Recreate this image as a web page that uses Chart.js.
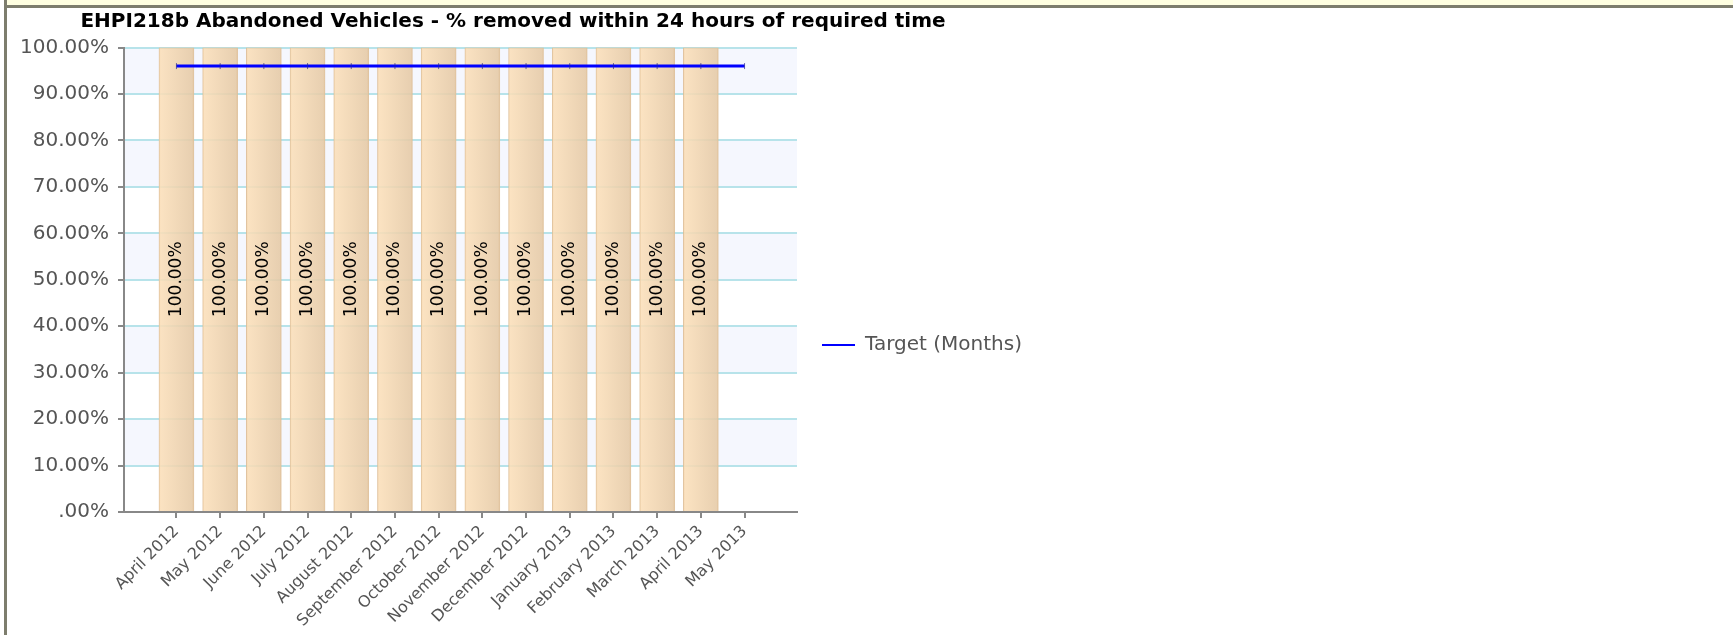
<!DOCTYPE html>
<html>
<head>
  <title>EHPI218b Abandoned Vehicles</title>
  <script src="https://cdn.jsdelivr.net/npm/chart.js@4"></script>
  <style>
    html, body { margin: 0; padding: 0; background: #fff; overflow: hidden; width: 1733px; height: 635px; }
    #topbar { position: absolute; left: 4px; top: 0; width: 1729px; height: 5px; background: #ffffe1; }
    #topline { position: absolute; left: 4px; top: 5px; width: 1729px; height: 3px; background: #7d7d6d; }
    #leftline { position: absolute; left: 4px; top: 0; width: 3px; height: 635px; background: #7d7d6d; }
    #chart { position: absolute; left: 0; top: 0; }
  </style>
</head>
<body>
  <div id="topbar"></div>
  <div id="topline"></div>
  <div id="leftline"></div>
  <canvas id="chart" width="1733" height="690"></canvas>
  <script>
    const months = ['April 2012', 'May 2012', 'June 2012', 'July 2012', 'August 2012', 'September 2012',
      'October 2012', 'November 2012', 'December 2012', 'January 2013', 'February 2013', 'March 2013',
      'April 2013', 'May 2013'];
    const actual = [100, 100, 100, 100, 100, 100, 100, 100, 100, 100, 100, 100, 100, null];
    const target = [96, 96, 96, 96, 96, 96, 96, 96, 96, 96, 96, 96, 96, 96];
    const yTicks = [0, 10, 20, 30, 40, 50, 60, 70, 80, 90, 100];

    const pct = v => v === 0 ? '.00%' : v.toFixed(2) + '%';

    // alternating light bands behind the grid
    const bands = {
      id: 'bands',
      beforeDraw(chart) {
        const { ctx, chartArea: a, scales: { y } } = chart;
        ctx.save();
        ctx.fillStyle = '#f5f7fe';
        for (let i = yTicks.length - 1; i > 0; i -= 2) {
          const top = y.getPixelForValue(yTicks[i]);
          const bot = y.getPixelForValue(yTicks[i - 1]);
          ctx.fillRect(a.left, top, a.right - a.left, bot - top);
        }
        ctx.restore();
      }
    };

    // value labels written up the middle of each bar
    const barLabels = {
      id: 'barLabels',
      afterDatasetsDraw(chart) {
        const ctx = chart.ctx;
        const meta = chart.getDatasetMeta(0);
        ctx.save();
        ctx.font = '17px "DejaVu Sans"';
        ctx.fillStyle = '#000';
        ctx.textAlign = 'center';
        ctx.textBaseline = 'middle';
        meta.data.forEach((bar, i) => {
          if (actual[i] == null) return;
          const { x, y, base } = bar.getProps(['x', 'y', 'base'], true);
          ctx.save();
          ctx.translate(x, (y + base) / 2);
          ctx.rotate(-Math.PI / 2);
          ctx.fillText(pct(actual[i]), 0, 0);
          ctx.restore();
        });
        ctx.restore();
      }
    };

    const barFill = c => {
      const xs = c.chart.scales && c.chart.scales.x;
      const px = xs && c.parsed ? xs.getPixelForValue(c.parsed.x) : NaN;
      if (!isFinite(px)) return 'rgba(240,214,180,0.88)';
      const g = c.chart.ctx.createLinearGradient(px - 18, 0, px + 18, 0);
      g.addColorStop(0, 'rgba(252,224,186,0.88)');
      g.addColorStop(1, 'rgba(228,200,164,0.88)');
      return g;
    };

    new Chart(document.getElementById('chart'), {
      data: {
        datasets: [
          {
            type: 'bar',
            label: 'Actual (Months)',
            data: months.map((m, i) => ({ x: i, y: actual[i] })),
            backgroundColor: barFill,
            borderColor: 'rgba(222,190,150,0.9)',
            borderWidth: 1,
            barThickness: 35,
            order: 2
          },
          {
            type: 'line',
            label: 'Target (Months)',
            data: months.map((m, i) => ({ x: i, y: target[i] })),
            borderColor: '#0000ff',
            backgroundColor: '#0000ff',
            borderWidth: 3,
            pointStyle: 'line',
            pointRotation: 90,
            pointRadius: 3,
            pointBorderWidth: 1,
            pointBorderColor: 'rgba(40,40,140,0.7)',
            order: 1
          }
        ]
      },
      options: {
        responsive: false,
        animation: false,
        devicePixelRatio: 1,
        layout: { padding: { left: 0, right: 707, top: 0, bottom: 0 } },
        plugins: {
          tooltip: { enabled: false },
          title: {
            display: true,
            text: 'EHPI218b Abandoned Vehicles - % removed within 24 hours of required time',
            color: '#000',
            font: { family: 'DejaVu Sans', size: 20, weight: 'bold' },
            padding: { top: 10, bottom: 13.5 }
          },
          legend: {
            position: 'right',
            maxWidth: 229,
            labels: {
              color: '#555',
              font: { family: 'DejaVu Sans', size: 20 },
              padding: 25,
              usePointStyle: true,
              pointStyleWidth: 33,
              generateLabels: chart => Chart.defaults.plugins.legend.labels.generateLabels(chart)
                .filter(l => l.datasetIndex === 1)
                .map(l => ({ ...l, pointStyle: 'line', rotation: 0, lineWidth: 2, strokeStyle: '#0000ff' }))
            }
          }
        },
        scales: {
          x: {
            type: 'linear',
            offset: false,
            min: -1.2,
            max: 14.2,
            afterFit: s => { s.height = 178; },
            afterBuildTicks: s => { s.ticks = months.map((m, i) => ({ value: i })); },
            ticks: {
              stepSize: 1,
              autoSkip: false,
              minRotation: 45,
              maxRotation: 45,
              padding: 4,
              color: '#555',
              font: { family: 'DejaVu Sans', size: 16 },
              callback: v => months[v]
            },
            grid: { offset: false, drawOnChartArea: false, tickLength: 6, tickColor: '#888', lineWidth: 2 },
            border: { color: '#888', width: 2 }
          },
          y: {
            min: 0,
            max: 100,
            afterFit: s => { s.width = 124; },
            afterBuildTicks: s => { s.ticks = yTicks.map(v => ({ value: v })); },
            ticks: {
              padding: 9,
              color: '#555',
              font: { family: 'DejaVu Sans', size: 20 },
              callback: v => pct(v)
            },
            grid: { color: '#b7e3ea', lineWidth: 2, tickLength: 6, tickColor: '#888' },
            border: { color: '#888', width: 2 }
          }
        }
      },
      plugins: [bands, barLabels]
    });
  </script>
</body>
</html>
